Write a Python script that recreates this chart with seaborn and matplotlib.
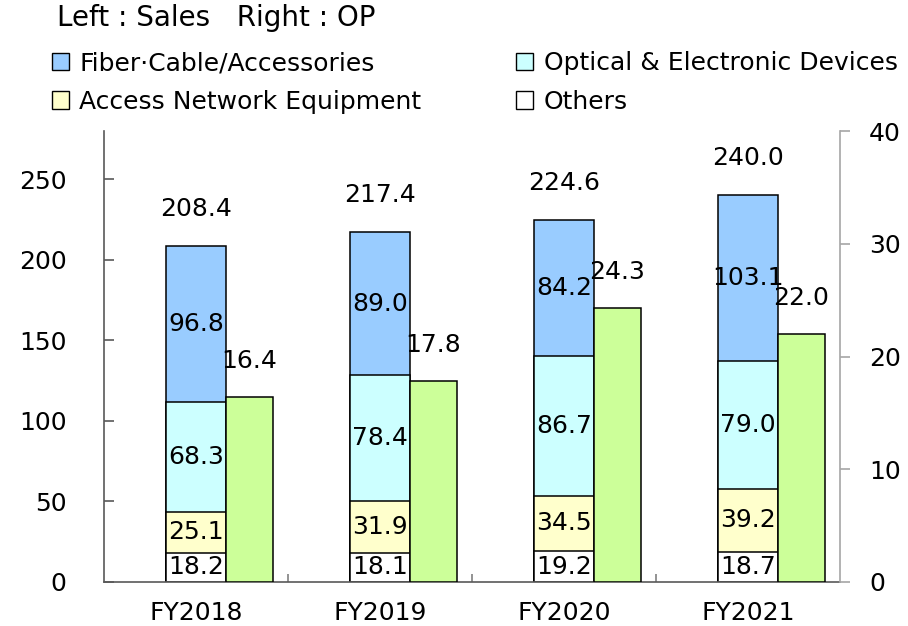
import numpy as np
import pandas as pd
import matplotlib
matplotlib.use("Agg")
import matplotlib.pyplot as plt
from matplotlib.patches import Patch
import seaborn as sns

# data
years = ["FY2018", "FY2019", "FY2020", "FY2021"]
others = [18.2, 18.1, 19.2, 18.7]
access = [25.1, 31.9, 34.5, 39.2]
optical = [68.3, 78.4, 86.7, 79.0]
fiber = [96.8, 89.0, 84.2, 103.1]
op = [16.4, 17.8, 24.3, 22.0]

seg_names = ["Others", "Access Network Equipment",
             "Optical & Electronic Devices", "Fiber·Cable/Accessories"]
seg_values = [others, access, optical, fiber]
seg_colors = ["#FFFFFF", "#FFFFCC", "#CCFFFF", "#99CCFF"]
op_color = "#CCFF99"

sns.set_theme(style="white")
plt.rcParams["font.family"] = ["DejaVu Sans"]
plt.rcParams["text.color"] = "black"
plt.rcParams["xtick.labelcolor"] = "black"
plt.rcParams["ytick.labelcolor"] = "black"

df = pd.DataFrame({"year": years})
for name, vals in zip(seg_names, seg_values):
    df[name] = vals
cum = df[seg_names].cumsum(axis=1)
totals = cum[seg_names[-1]]

fig = plt.figure(figsize=(9.08, 6.26), dpi=100)
ax = fig.add_axes([0.1145, 0.0703, 0.8105, 0.7204])

bar_w = 0.326
op_w = 0.255

# stacked sales bars: draw cumulative heights from the top layer down
for name, color in reversed(list(zip(seg_names, seg_colors))):
    sns.barplot(x=df["year"], y=cum[name], color=color, saturation=1,
                width=bar_w, edgecolor="black", linewidth=1.1,
                errorbar=None, ax=ax)

ax.set_xlim(-0.5, 3.5)
ax.set_ylim(0, 280)
ax.set_yticks([0, 50, 100, 150, 200, 250])
ax.set_xlabel("")
ax.set_ylabel("")

# segment labels and totals
for i in range(len(years)):
    base = 0
    for vals in seg_values:
        ax.text(i, base + vals[i] / 2, f"{vals[i]:.1f}", ha="center",
                va="center", fontsize=18, color="black", zorder=5)
        base += vals[i]
    ax.annotate(f"{totals[i]:.1f}", (i, totals[i]), xytext=(0, 37),
                textcoords="offset pixels", ha="center", va="center",
                fontsize=18, color="black")

# operating profit on the right axis
ax2 = ax.twinx()
xpos = np.arange(len(years)) + bar_w / 2
ax2.bar(xpos, op, width=op_w, align="edge", color=op_color,
        edgecolor="black", linewidth=1.1)
ax2.set_ylim(0, 40)
ax2.set_yticks([0, 10, 20, 30, 40])
for x, v in zip(xpos, op):
    ax2.annotate(f"{v:.1f}", (x + op_w / 2, v), xytext=(0, 36),
                 textcoords="offset pixels", ha="center", va="center",
                 fontsize=18, color="black")
ax2.grid(False)

# axes styling
for s in ["top", "right"]:
    ax.spines[s].set_visible(False)
for s in ["top", "left", "bottom"]:
    ax2.spines[s].set_visible(False)
ax.spines["left"].set_color("#595959")
ax.spines["bottom"].set_color("#595959")
ax2.spines["right"].set_color("#A6A6A6")
for s in [ax.spines["left"], ax.spines["bottom"], ax2.spines["right"]]:
    s.set_linewidth(1.2)

ax.tick_params(axis="y", direction="in", length=7, width=1.2,
               color="#595959", labelsize=18, labelcolor="black", pad=27,
               left=True)
ax.tick_params(axis="x", which="major", length=0, labelsize=18,
               labelcolor="black", pad=14)
ax.set_xticks([0.5, 1.5, 2.5], minor=True)
ax.tick_params(axis="x", which="minor", direction="in", length=6,
               width=1.2, color="#808080", bottom=True)
ax2.tick_params(axis="y", direction="out", length=7, width=1.2,
                color="#A6A6A6", labelsize=18, labelcolor="black", pad=14,
                right=True)

# header and legend
fig.text(0.063, 0.971, "Left : Sales   Right : OP", fontsize=20,
         va="center", ha="left", color="black")
handles = [Patch(facecolor=c, edgecolor="black", linewidth=1)
           for c in seg_colors]
order = [3, 1, 2, 0]
fig.legend([handles[k] for k in order], [seg_names[k] for k in order],
           ncol=2, loc="upper left", bbox_to_anchor=(0.057, 0.918),
           frameon=False, handlelength=0.68, handleheight=0.68,
           handletextpad=0.42, columnspacing=3.8, labelspacing=0.58,
           borderpad=0, borderaxespad=0, labelcolor="black",
           prop={"size": 18})

fig.savefig("out.png", dpi=100)
